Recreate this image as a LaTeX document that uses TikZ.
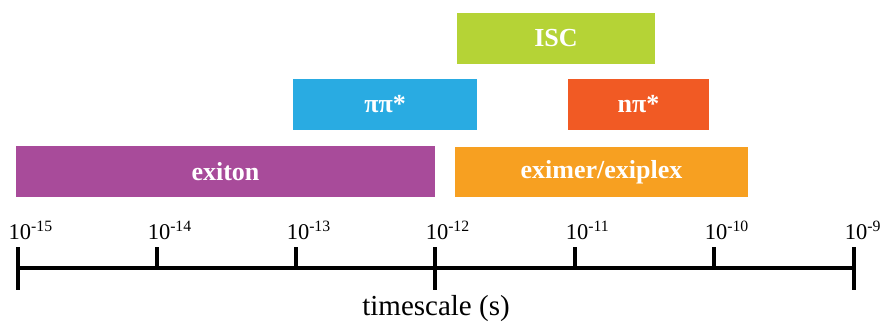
\documentclass[tikz,border=0pt]{standalone}
\usepackage{fontspec}
\setmainfont{Liberation Serif}
\begin{document}
\begin{tikzpicture}[x=1pt,y=-1pt,
  bartext/.style={text=white, font=\fontsize{26}{28}\selectfont\bfseries, inner sep=0pt},
  ticklabel/.style={font=\fontsize{22.5}{25}\selectfont, inner sep=0pt, anchor=base},
  axisline/.style={line width=4pt, black}
]
\definecolor{cISC}{HTML}{B5D336}
\definecolor{cpp}{HTML}{29ABE2}
\definecolor{cnp}{HTML}{F15A24}
\definecolor{cex}{HTML}{F7A021}
\definecolor{cexi}{HTML}{A84B9A}
\useasboundingbox (0,0) rectangle (881,326);

% bars
\fill[cISC] (457,13) rectangle (655,64);
\node[bartext] (isc) at (556,38.5) {ISC};
\fill[cpp] (293,79) rectangle (477,130);
\node[bartext] (pp) at (385,104.5) {ππ*};
\fill[cnp] (568,79) rectangle (709,130);
\node[bartext] (np) at (638.5,104.5) {nπ*};
\fill[cexi] (16,146) rectangle (435,197);
\node[bartext] (exiton) at (225.5,171.5) {exiton};
\fill[cex] (455,147) rectangle (748,197);
\node[bartext] (eximer) at (601.5,172) {eximer/exiplex};

% axis
\coordinate (a0) at (18,268);
\coordinate (a6) at (854,268);
\draw[axisline] (a0) -- (a6);
\foreach \x/\e/\long in {18/15/1, 157/14/0, 296/13/0, 435/12/1, 575/11/0, 714/10/0, 854/9/1} {
  \coordinate (t\e) at (\x,247);
  \ifnum\long=1
    \draw[axisline] (t\e) -- ++(0,43);
  \else
    \draw[axisline] (t\e) -- ++(0,21);
  \fi
  \node[ticklabel] (l\e) at (\x+2,239) {10\rlap{\textsuperscript{-\e}}};
}
\node[font=\fontsize{29}{32}\selectfont, inner sep=0pt, anchor=base] (ts) at (436,315) {timescale (s)};
\end{tikzpicture}
\end{document}
